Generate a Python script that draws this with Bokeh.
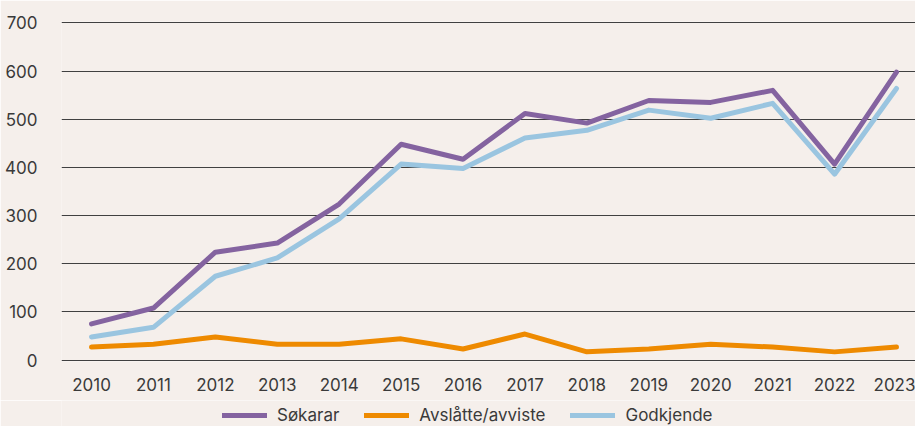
from bokeh.plotting import figure
from bokeh.layouts import column
from bokeh.models import Range1d, Legend, LegendItem, FixedTicker
from bokeh.embed import file_html
from bokeh.resources import INLINE

years = [2010, 2011, 2012, 2013, 2014, 2015, 2016, 2017, 2018, 2019, 2020, 2021, 2022, 2023]
sokarar = [75, 108, 224, 243, 324, 448, 417, 512, 492, 539, 535, 560, 407, 598]
avslatte = [27, 33, 48, 33, 33, 44, 23, 54, 17, 23, 33, 27, 17, 27]
godkjende = [48, 68, 174, 212, 293, 407, 398, 461, 477, 519, 502, 533, 386, 564]
y_ticks = [0, 100, 200, 300, 400, 500, 600, 700]
series_names = ["Søkarar", "Avslåtte/avviste", "Godkjende"]
series_colors = ["#8463a0", "#ee8a00", "#9ac5e0"]

BG = "#f5efeb"
FONT = "Inter"
TXT = "#3a3a3a"

p = figure(frame_width=854, frame_height=340, output_backend="svg", toolbar_location=None,
           x_range=Range1d(2009.5155, 2023.307), y_range=Range1d(-3, 703),
           background_fill_color=BG, border_fill_color=BG, outline_line_color=None,
           min_border_left=61, min_border_right=0, min_border_top=21, min_border_bottom=39)

p.xgrid.grid_line_color = None
p.ygrid.grid_line_color = "#404040"
p.ygrid.grid_line_width = 1
p.yaxis.ticker = FixedTicker(ticks=y_ticks)
p.xaxis.ticker = FixedTicker(ticks=years)

for ax in (p.xaxis[0], p.yaxis[0]):
    ax.axis_line_color = None
    ax.major_tick_line_color = None
    ax.minor_tick_line_color = None
    ax.major_label_text_font = FONT
    ax.major_label_text_font_size = "17px"
    ax.major_label_text_color = TXT
p.yaxis.major_label_standoff = 18
p.xaxis.major_label_standoff = 10

series = [sokarar, avslatte, godkjende]
for vals, c in zip(series, series_colors):
    p.line(years, vals, color=c, line_width=5, line_join="round", line_cap="round")

# legend strip below the chart (its ranges keep the series out of view; only the legend shows)
lg = figure(width=915, height=26, output_backend="svg", toolbar_location=None,
            x_axis_location=None, y_axis_location=None,
            x_range=Range1d(0, 1), y_range=Range1d(0, 1),
            background_fill_color=BG, border_fill_color=BG, outline_line_color=None,
            min_border=0)
lg.xgrid.grid_line_color = None
lg.ygrid.grid_line_color = None
items = []
for name, vals, c in zip(series_names, series, series_colors):
    r = lg.line(years, vals, color=c, line_width=5, line_cap="round")
    items.append(LegendItem(label=name, renderers=[r]))
legend = Legend(items=items, orientation="horizontal", location=(161, 1),
                padding=0, margin=0, spacing=25, label_standoff=10,
                glyph_width=45, glyph_height=20, label_height=20,
                border_line_color=None, background_fill_alpha=0,
                label_text_font=FONT, label_text_font_size="17px", label_text_color=TXT)
lg.add_layout(legend, "center")

layout = column(p, lg, spacing=0)
open("out.html", "w").write(file_html(layout, INLINE))
